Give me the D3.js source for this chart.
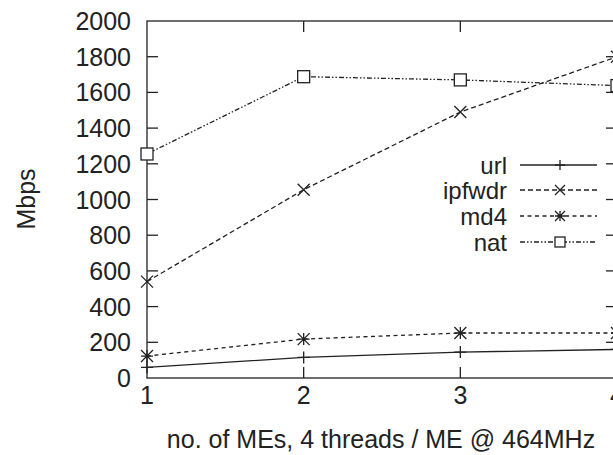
<!DOCTYPE html>
<html>
<head>
<meta charset="utf-8">
<script src="https://cdn.jsdelivr.net/npm/d3@7"></script>
<style>
  body { margin: 0; background: #fff; }
  text { font-family: "Liberation Sans", Arial, sans-serif; fill: #222; }
</style>
</head>
<body>
<div id="chart"></div>
<script>
// Chart size and plot box
const width = 613;
const height = 455;
const marginTop = 21;
const marginLeft = 147;
const plotRight = 617;
const plotBottom = 378;

// data
const mes = [1, 2, 3, 4];
const url = [60, 115, 145, 160];
const ipfwdr = [540, 1055, 1490, 1800];
const md4 = [123, 218, 252, 252];
const nat = [1255, 1688, 1670, 1638];
const yTicks = [0, 200, 400, 600, 800, 1000, 1200, 1400, 1600, 1800, 2000];

const series = [
  {name: "url", values: url, dash: null, marker: "plus"},
  {name: "ipfwdr", values: ipfwdr, dash: "5,3", marker: "cross"},
  {name: "md4", values: md4, dash: "4,3.5", marker: "star"},
  {name: "nat", values: nat, dash: "5,2,1.5,2,1.5,2", marker: "square"}
];

const x = d3.scaleLinear().domain([1, 4]).range([marginLeft, plotRight]);
const y = d3.scaleLinear().domain([0, 2000]).range([plotBottom, marginTop]);

const svg = d3.select("#chart").append("svg")
  .attr("width", width)
  .attr("height", height)
  .attr("viewBox", [0, 0, width, height]);

const ink = "#222";
const tickLen = 11;
const fs = 25;

// frame
svg.append("rect")
  .attr("x", x(1)).attr("y", y(2000))
  .attr("width", x(4) - x(1)).attr("height", y(0) - y(2000))
  .attr("fill", "none").attr("stroke", ink).attr("stroke-width", 1.3);

// y ticks (left and mirrored on right), pointing inward
svg.append("g").selectAll("line")
  .data(yTicks.slice(1, -1))
  .join("line")
    .attr("x1", x(1)).attr("x2", x(1) + tickLen)
    .attr("y1", d => y(d)).attr("y2", d => y(d))
    .attr("stroke", ink).attr("stroke-width", 1.3);
svg.append("g").selectAll("line")
  .data(yTicks.slice(1, -1))
  .join("line")
    .attr("x1", x(4)).attr("x2", x(4) - tickLen)
    .attr("y1", d => y(d)).attr("y2", d => y(d))
    .attr("stroke", ink).attr("stroke-width", 1.3);

svg.append("g").selectAll("text")
  .data(yTicks)
  .join("text")
    .attr("x", 131)
    .attr("y", d => y(d))
    .attr("dy", "0.36em")
    .attr("text-anchor", "end")
    .attr("font-size", fs)
    .text(d => d);

// x ticks, top and bottom
svg.append("g").selectAll("line")
  .data(mes.slice(1, -1))
  .join("line")
    .attr("x1", d => x(d)).attr("x2", d => x(d))
    .attr("y1", y(0)).attr("y2", y(0) - tickLen)
    .attr("stroke", ink).attr("stroke-width", 1.3);
svg.append("g").selectAll("line")
  .data(mes.slice(1, -1))
  .join("line")
    .attr("x1", d => x(d)).attr("x2", d => x(d))
    .attr("y1", y(2000)).attr("y2", y(2000) + tickLen)
    .attr("stroke", ink).attr("stroke-width", 1.3);

svg.append("g").selectAll("text")
  .data(mes)
  .join("text")
    .attr("x", d => x(d))
    .attr("y", 404)
    .attr("text-anchor", "middle")
    .attr("font-size", fs)
    .text(d => d);

// axis titles
svg.append("text")
  .attr("x", 381).attr("y", 448)
  .attr("text-anchor", "middle")
  .attr("font-size", fs)
  .text("no. of MEs, 4 threads / ME @ 464MHz");

svg.append("text")
  .attr("transform", "translate(35,199) rotate(-90)")
  .attr("text-anchor", "middle")
  .attr("font-size", fs)
  .text("Mbps");

// marker shapes
function drawMarker(g, type, cx, cy, s) {
  if (type === "plus") {
    g.append("path").attr("d", `M${cx - s},${cy}H${cx + s}M${cx},${cy - s}V${cy + s}`);
  } else if (type === "cross") {
    g.append("path").attr("d", `M${cx - s},${cy - s}L${cx + s},${cy + s}M${cx - s},${cy + s}L${cx + s},${cy - s}`);
  } else if (type === "star") {
    g.append("path").attr("d", `M${cx - s},${cy}H${cx + s}M${cx},${cy - s}V${cy + s}M${cx - s},${cy - s}L${cx + s},${cy + s}M${cx - s},${cy + s}L${cx + s},${cy - s}`);
  } else {
    g.append("rect").attr("x", cx - s).attr("y", cy - s).attr("width", 2 * s).attr("height", 2 * s)
      .attr("fill", "#fff");
  }
}

const line = d3.line().x((d, i) => x(mes[i])).y(d => y(d));

series.forEach(s => {
  const g = svg.append("g").attr("stroke", ink).attr("stroke-width", 1.3).attr("fill", "none");
  g.append("path")
    .attr("d", line(s.values))
    .attr("stroke-dasharray", s.dash);
  s.values.forEach((v, i) => drawMarker(g, s.marker, x(mes[i]), y(v), 6));
});

// legend
const legY = [165, 190, 216, 242];
series.forEach((s, i) => {
  const g = svg.append("g");
  g.append("text")
    .attr("x", 507).attr("y", legY[i])
    .attr("dy", "0.36em")
    .attr("text-anchor", "end")
    .attr("font-size", 24)
    .text(s.name);
  const lg = g.append("g").attr("stroke", ink).attr("stroke-width", 1.3).attr("fill", "none");
  lg.append("line")
    .attr("x1", 520).attr("x2", 597)
    .attr("y1", legY[i]).attr("y2", legY[i])
    .attr("stroke-dasharray", s.dash);
  drawMarker(lg, s.marker, 560, legY[i], 5);
});
</script>
</body>
</html>
